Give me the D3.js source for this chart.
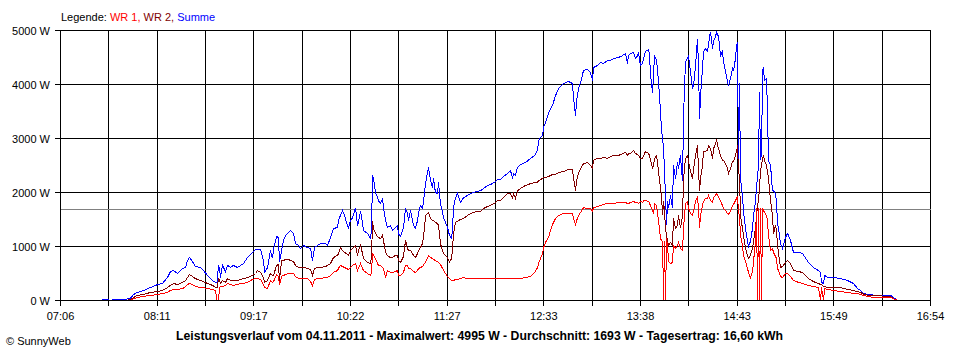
<!DOCTYPE html>
<html><head><meta charset="utf-8">
<script src="https://cdn.jsdelivr.net/npm/d3@7"></script>
<style>
html,body{margin:0;padding:0;background:#fff;}
svg{display:block;font-family:"Liberation Sans",Arial,sans-serif;}
</style></head><body>
<svg id="chart" width="960" height="360"></svg>
<script>
// time of day in minutes after midnight
const times = [
453.0,455.1,457.8,459.1,463.2,469.9,473.3,475.3,478.0,482.1,
486.8,491.6,494.9,498.3,500.3,502.4,505.1,508.5,510.5,511.8,
513.2,515.2,517.2,520.6,522.6,525.4,528.7,530.8,531.8,532.8,
533.5,534.1,535.5,537.5,538.9,540.9,542.9,545.6,547.7,549.7,
552.4,555.8,557.8,559.1,561.2,563.2,563.9,565.9,567.9,569.3,
570.0,572.0,573.3,574.0,575.4,576.7,578.1,580.1,581.4,583.5,
584.8,586.9,588.2,590.2,592.9,595.0,596.3,597.7,599.7,601.7,
605.1,606.5,608.5,610.5,613.2,613.9,615.2,616.6,617.9,619.3,
620.6,622.0,623.4,625.4,626.7,627.4,628.8,630.1,630.8,633.5,
635.5,636.2,636.9,637.5,638.9,640.3,640.9,642.3,643.6,644.3,
645.7,647.0,649.0,650.4,652.4,653.8,654.4,655.8,657.8,659.2,
660.5,661.2,662.6,664.6,665.9,667.3,668.0,669.3,670.7,672.0,
672.7,674.0,674.7,676.1,677.4,678.1,679.4,680.8,681.5,682.8,
684.2,684.9,686.2,687.6,688.9,690.3,690.9,691.6,693.0,694.3,
696.3,698.4,701.1,703.1,705.1,707.8,709.9,711.9,714.6,716.6,
718.0,720.0,721.4,723.4,725.4,728.1,730.1,731.5,732.2,733.5,
734.9,736.9,740.3,743.7,746.4,748.4,749.1,750.4,751.8,752.5,
753.8,755.8,757.2,758.5,760.6,762.6,766.0,769.3,772.0,772.7,
774.1,774.8,776.1,777.5,779.5,782.2,784.2,785.6,786.2,788.9,
791.0,793.0,795.7,797.7,799.8,803.1,805.8,807.9,809.2,809.9,
811.2,813.3,814.6,816.0,816.7,818.0,819.4,820.1,821.4,823.5,
824.1,824.8,826.2,826.9,827.5,828.9,830.2,831.5,832.2,832.9,
833.6,834.2,834.9,835.6,836.3,836.9,838.3,839.6,840.3,841.7,
843.0,843.7,845.0,846.4,847.1,848.4,849.8,850.5,851.8,853.2,
853.9,855.2,856.5,857.2,857.9,858.6,859.9,860.6,861.9,863.3,
864.0,865.3,866.7,867.4,868.7,869.4,870.7,872.1,873.4,874.1,
875.5,876.8,877.5,878.8,880.2,880.9,882.2,882.9,883.6,884.2,
884.9,885.6,886.9,887.6,889.0,890.3,891.0,892.3,893.7,894.4,
895.7,896.4,897.1,897.8,898.4,899.1,899.8,900.5,901.1,901.8,
903.2,903.8,904.5,905.9,907.2,907.9,909.2,909.9,910.6,911.3,
912.6,914.0,916.0,917.4,919.4,921.4,924.8,927.5,931.5,934.9,
938.3,939.7,940.3,941.7,942.4,944.4,948.5,953.2,957.9,962.0,
964.7,966.7,968.7,971.4,975.5,980.2,984.9,987.0,989.0,991.7
];
// Summe (W)
const summe = [
0,20,20,0,20,20,40,110,150,185,
240,295,315,425,535,555,500,595,610,740,
795,720,630,610,555,465,370,335,335,650,
595,425,650,535,650,610,650,610,650,685,
795,890,945,945,945,740,520,610,925,780,
965,1185,1165,705,925,1110,1205,1260,1295,1240,
1055,1020,965,1020,980,965,740,980,1020,1055,
1055,1020,1165,1335,1350,1480,1575,1665,1575,1445,
1350,1480,1535,1720,1390,1445,1665,1425,1295,1240,
1150,1295,2315,2260,2000,1905,1850,1795,1890,1720,
1480,1350,1390,1295,1350,1390,1240,1185,1350,1705,
1610,1480,1665,1390,1335,1480,1630,1760,1705,1980,
2165,2370,2465,2220,2090,2260,2000,1980,2185,1795,
1630,1535,1445,1350,1205,1150,1295,1720,1905,1980,
1815,1905,1945,1980,2000,2020,2035,2075,2130,2150,
2165,2205,2240,2240,2295,2350,2405,2280,2350,2315,
2465,2520,2555,2630,2685,2780,2965,3020,3055,3205,
3295,3465,3555,3610,3795,3925,4020,4055,4020,3760,
3425,3705,3925,4035,4260,4280,4220,4075,4315,4350,
4405,4390,4445,4445,4480,4500,4535,4575,4390,4535,
4575,4595,4480,4535,4575,4350,4390,4480,4610,4650,
4535,4165,3850,4260,4535,4445,4055,3500,3150,3000,
2815,2405,1945,1390,1850,1705,1945,1705,2500,2260,
2555,2445,2685,2205,3425,4425,4480,4520,4240,3925,
3980,4350,4850,4350,3370,3795,4295,4610,4665,4610,
4760,4980,4665,4795,4890,4965,4890,4535,4610,4425,
4240,4055,3965,4110,4295,4260,4480,4705,4795,2445,
4035,2260,1945,1650,1335,1095,1000,1095,1335,1575,
1835,2075,2315,2500,3870,2600,2700,4260,4295,4075,
4110,3520,2595,2500,2035,2035,1980,1835,1425,1335,
1055,965,1165,1240,1110,890,890,870,705,610,
555,520,335,315,465,425,425,405,370,315,
220,185,130,110,100,100,100,100,55,0
];
// WR 2 (W)
const wr2 = [
0,0,0,0,0,0,20,55,95,110,
150,165,185,240,280,315,295,335,370,425,
480,445,405,370,350,315,280,240,240,405,
370,315,370,335,405,370,370,370,390,405,
425,465,500,555,520,425,335,370,500,465,
465,650,665,370,740,740,760,760,740,720,
650,610,610,610,595,575,465,595,610,610,
630,650,685,795,835,870,980,925,890,870,
835,925,965,1020,835,925,1020,870,780,705,
685,795,1480,1335,1240,1185,1165,1150,1205,1110,
890,835,795,795,835,835,740,705,815,1110,
965,925,925,835,795,870,925,980,1055,1335,
1575,1610,1630,1520,1480,1480,1445,1425,1390,1055,
925,870,835,795,705,780,925,1240,1445,1465,
1500,1520,1575,1610,1630,1650,1650,1705,1740,1760,
1780,1815,1850,1850,1905,1980,1980,1905,1980,1890,
2035,2075,2130,2165,2185,2185,2220,2240,2260,2280,
2280,2295,2315,2335,2335,2370,2390,2425,2425,2280,
2035,2220,2350,2445,2535,2555,2500,2445,2595,2630,
2630,2650,2630,2665,2685,2685,2720,2740,2685,2720,
2720,2780,2720,2705,2685,2630,2630,2685,2760,2720,
2685,2595,2445,2535,2630,2685,2390,2075,1945,1575,
1850,1650,1335,1205,1110,1020,1075,1020,1520,1335,
1390,1575,1335,1575,2260,2630,2685,2575,2390,2260,
2445,2685,2870,2445,2020,2260,2500,2760,2760,2780,
2870,2815,2630,2815,2905,2965,2815,2685,2595,2595,
2535,2445,2350,2445,2575,2575,2685,2760,2870,2390,
2315,1575,1335,1205,965,835,780,835,965,1095,
1335,1575,1760,1850,2075,2400,2500,2630,2685,2595,
2500,2390,2260,1850,1575,1240,1390,1295,1020,870,
610,630,705,740,685,555,535,520,405,350,
315,295,295,260,260,240,240,240,205,185,
165,150,120,100,85,85,75,75,35,0
];
// WR 1 (W)
const wr1 = [
0,0,0,0,0,0,0,35,55,75,
95,110,130,150,185,205,205,220,260,295,
315,295,260,240,240,220,205,185,0,0,
240,260,260,280,315,295,280,295,315,315,
335,390,405,405,390,295,240,220,370,335,
350,480,445,280,445,465,480,500,500,500,
445,405,405,405,405,350,280,390,405,405,
425,425,465,520,555,595,650,630,610,595,
575,610,650,685,555,595,685,595,555,500,
465,520,870,835,780,685,650,650,610,595,
425,555,520,520,535,555,465,465,520,650,
650,595,595,535,520,555,595,610,630,685,
705,780,835,795,780,760,740,720,705,665,
595,555,500,445,405,370,370,370,390,390,
405,425,405,405,405,405,405,405,405,405,
405,405,405,405,405,405,405,405,405,405,
405,405,425,445,520,610,685,780,870,980,
1075,1165,1295,1405,1520,1575,1610,1610,1610,1535,
1390,1480,1575,1630,1720,1705,1705,1650,1720,1740,
1760,1780,1795,1795,1795,1815,1815,1815,1795,1795,
1815,1835,1815,1815,1795,1835,1815,1850,1850,1835,
1795,1760,1665,1610,1795,1760,1465,1150,1110,1095,
0,1110,0,1150,1020,720,685,705,1020,965,
1020,1075,965,925,1335,1795,1835,1705,1610,1575,
1665,1835,1925,1705,1335,1575,1760,1835,1890,1890,
1945,1850,1815,1905,1945,1980,1925,1835,1760,1705,
1665,1610,1595,1650,1760,1780,1850,1890,1925,1650,
1575,1205,1020,835,720,595,520,425,535,720,
1095,1705,0,1705,0,1720,0,1705,1665,1630,
1575,1465,1205,925,965,890,815,780,595,555,
445,425,500,500,445,370,335,315,280,260,
240,0,240,0,220,205,185,165,150,130,
130,110,95,75,55,55,55,55,35,0
];
const yTicks = [0, 1000, 2000, 3000, 4000, 5000];
const xTickLabels = ["07:06","08:11","09:17","10:22","11:27","12:33","13:38","14:43","15:49","16:54"];
const timeStart = 426, timeEnd = 1014;
const average = 1693;
const legendParts = [
  {text: "Legende: ", color: "#000000"},
  {text: "WR 1, ", color: "#ff0000"},
  {text: "WR 2, ", color: "#800000"},
  {text: "Summe", color: "#0000ff"}
];
const titleText = "Leistungsverlauf vom 04.11.2011 - Maximalwert: 4995 W - Durchschnitt: 1693 W - Tagesertrag: 16,60 kWh";
const copyrightText = "\u00A9 SunnyWeb";

const svg = d3.select("#chart");
const x = d3.scaleLinear().domain([timeStart, timeEnd]).range([60.5, 930.5]);
const y = d3.scaleLinear().domain([0, 5000]).range([300.5, 30.5]);

const step = (timeEnd - timeStart) / (xTickLabels.length - 1);
const gridTimes = d3.range(0, (xTickLabels.length - 1) * 2 + 1).map(i => timeStart + i * step / 2);
const labelTimes = xTickLabels.map((_, i) => timeStart + i * step);

const grid = svg.append("g").attr("shape-rendering", "crispEdges");
grid.selectAll("line.h").data(yTicks).join("line")
  .attr("x1", 55).attr("x2", 930.5)
  .attr("y1", d => y(d)).attr("y2", d => y(d))
  .attr("stroke", "#000").attr("stroke-width", 1);
grid.selectAll("line.v").data(gridTimes).join("line")
  .attr("x1", d => x(d)).attr("x2", d => x(d))
  .attr("y1", y(5000)).attr("y2", 305.5)
  .attr("stroke", "#000").attr("stroke-width", 1);
grid.append("line")
  .attr("x1", x(timeStart)).attr("x2", x(timeEnd))
  .attr("y1", y(average)).attr("y2", y(average))
  .attr("stroke", "#808080").attr("stroke-width", 1);

const series = [
  {values: summe, color: "#0000ff"},
  {values: wr2, color: "#800000"},
  {values: wr1, color: "#ff0000"}
];
const line = d3.line().x(d => x(d[0])).y(d => y(d[1]));
series.forEach(s => {
  const pts = times.map((t, i) => [t, s.values[i]]);
  svg.append("path").datum(pts)
    .attr("d", line).attr("fill", "none")
    .attr("stroke", s.color).attr("stroke-width", 1)
    .attr("shape-rendering", "crispEdges");
});

// zero axis on top
svg.append("line").attr("shape-rendering", "crispEdges")
  .attr("x1", 55).attr("x2", 930.5).attr("y1", y(0)).attr("y2", y(0))
  .attr("stroke", "#000");

svg.selectAll("text.ylab").data(yTicks).join("text")
  .attr("x", 50).attr("y", d => y(d) + 4)
  .attr("text-anchor", "end").attr("font-size", "11px").attr("fill", "#000")
  .text(d => d + " W");

svg.selectAll("text.xlab").data(labelTimes).join("text")
  .attr("x", d => x(d)).attr("y", 320)
  .attr("text-anchor", "middle").attr("font-size", "11px").attr("fill", "#000")
  .text((d, i) => xTickLabels[i]);

const leg = svg.append("text").attr("x", 61).attr("y", 21).attr("font-size", "11px");
legendParts.forEach(p => leg.append("tspan").attr("fill", p.color).text(p.text));
leg.attr("xml:space", "preserve");

svg.append("text").attr("x", 176).attr("y", 339.5)
  .attr("font-size", "12px").attr("font-weight", "bold")
  .attr("textLength", 607).attr("lengthAdjust", "spacingAndGlyphs")
  .text(titleText);

svg.append("text").attr("x", 6).attr("y", 345)
  .attr("font-size", "11px").text(copyrightText);
</script>
</body></html>
